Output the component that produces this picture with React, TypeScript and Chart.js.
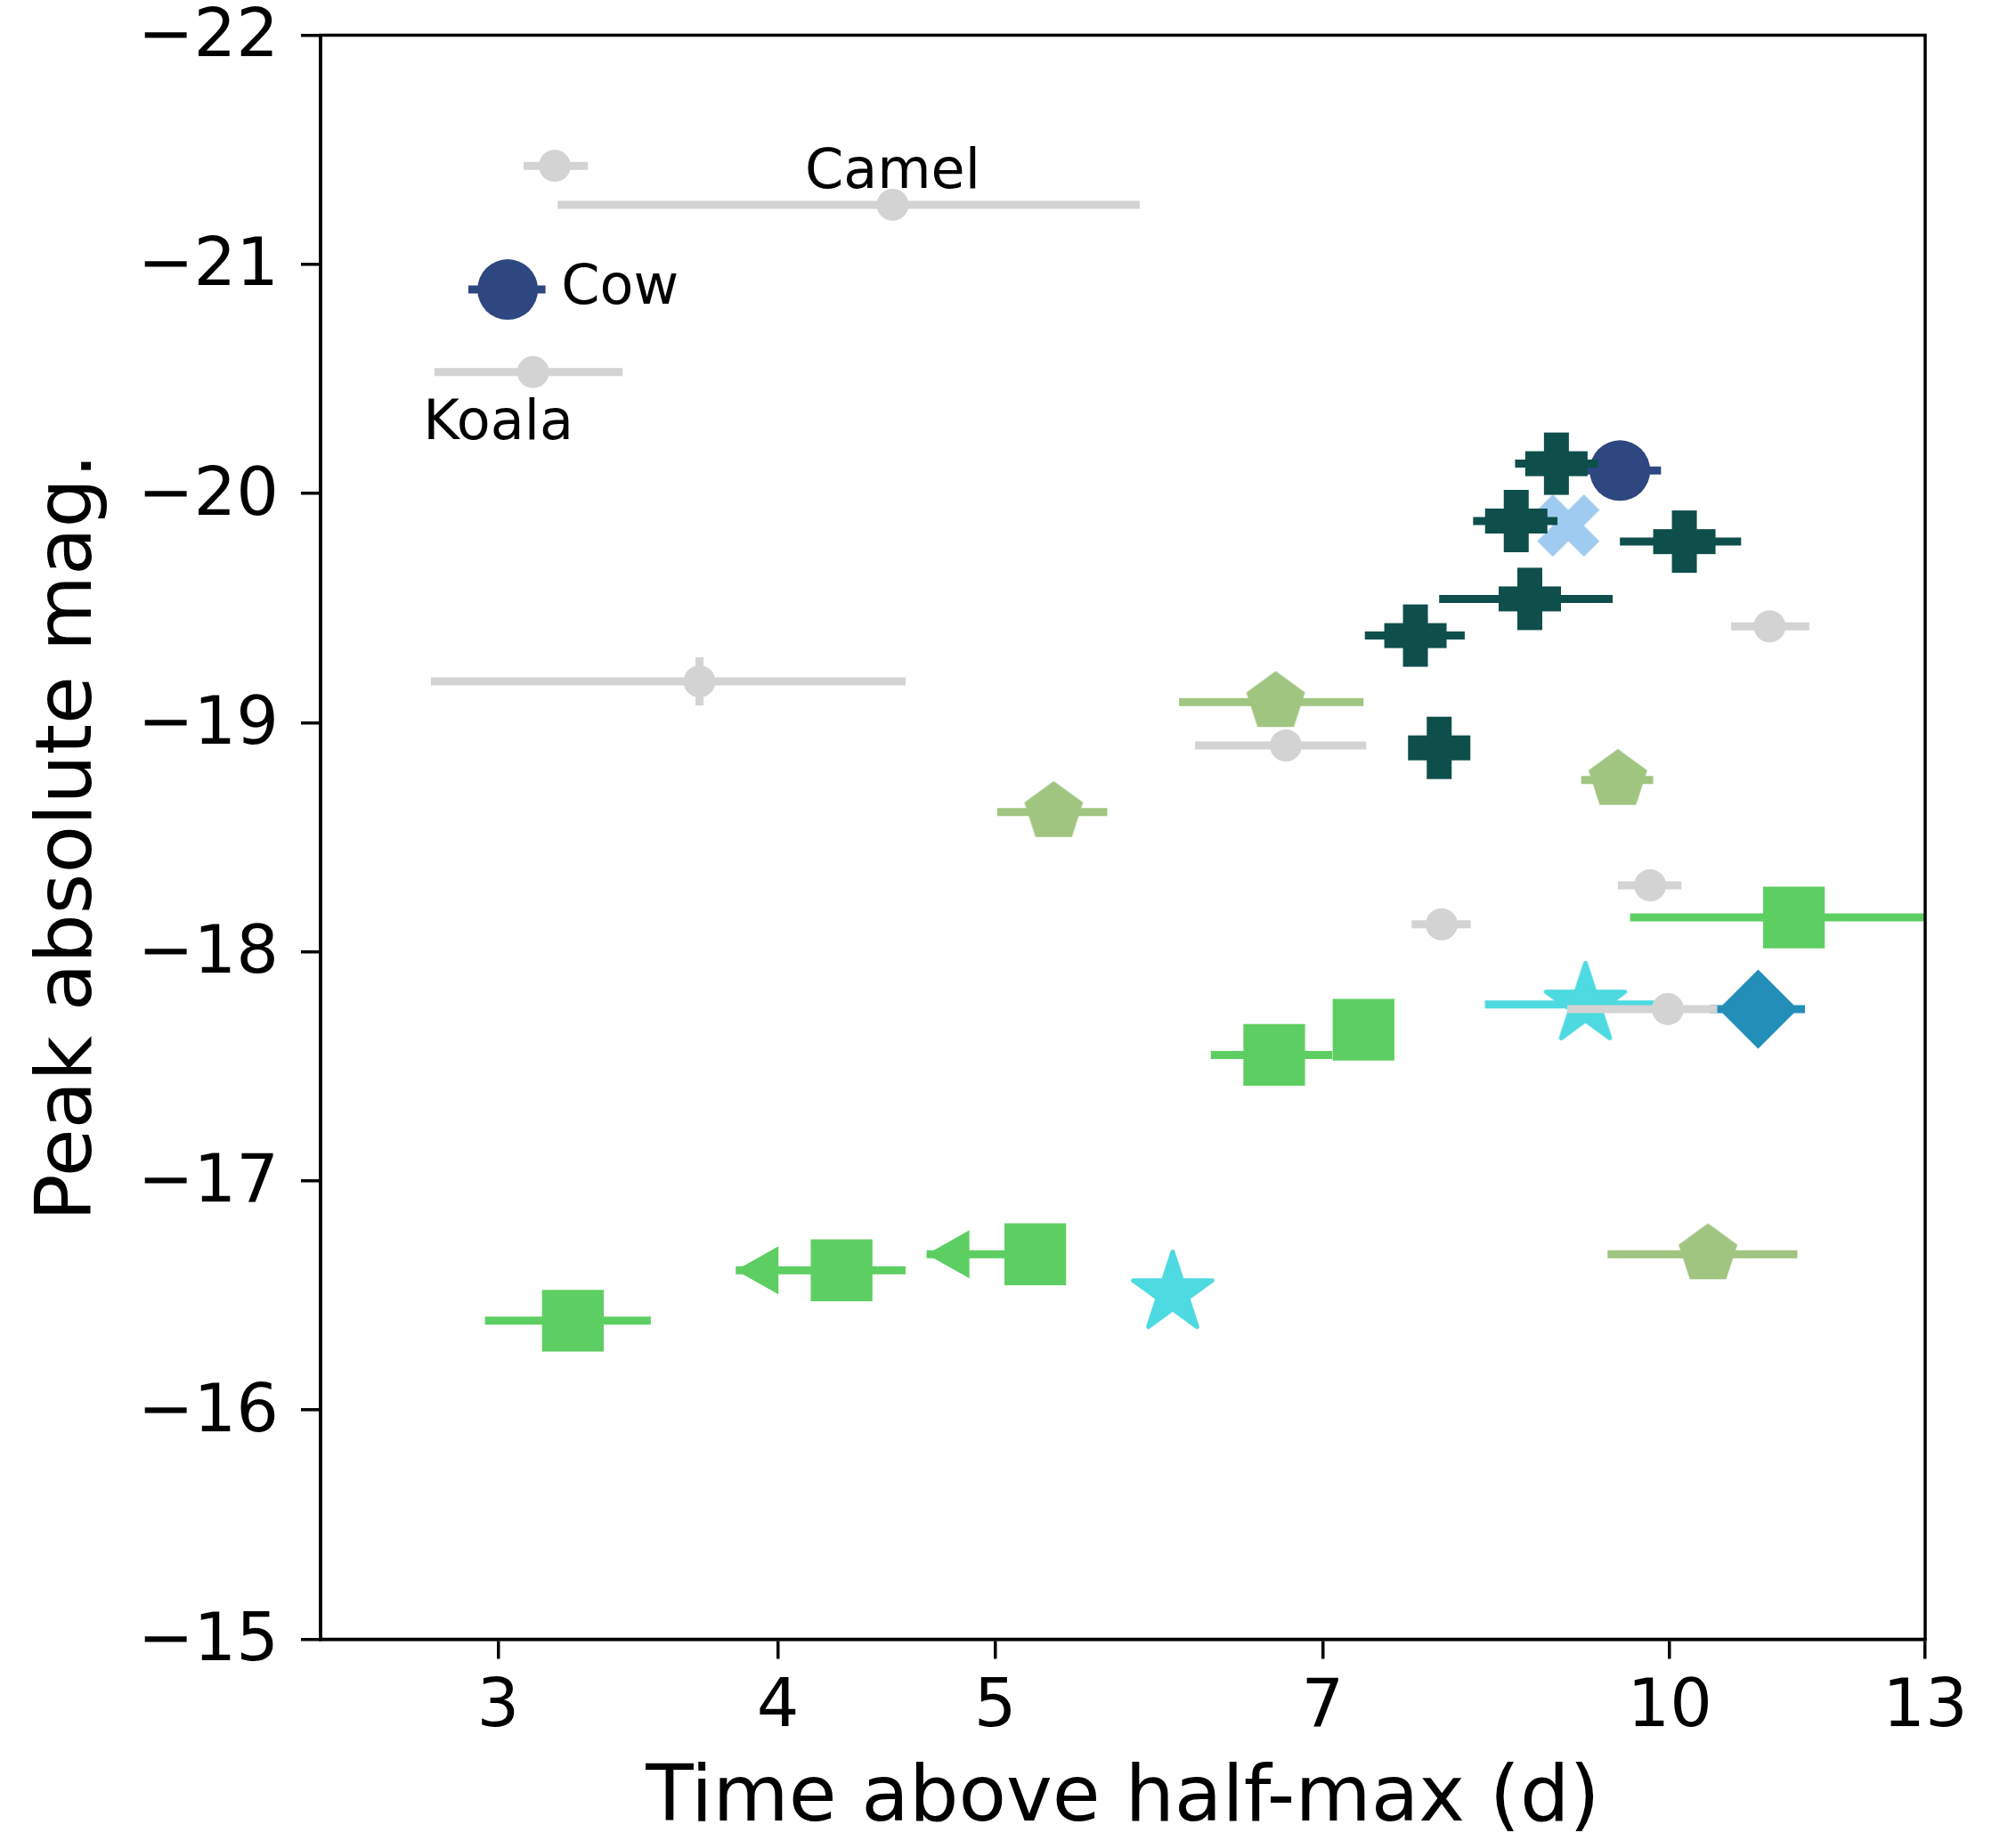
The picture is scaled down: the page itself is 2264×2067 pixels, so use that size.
import React, { useEffect, useRef } from 'react';
import { Chart, registerables } from 'chart.js';

Chart.register(...registerables);

const FONT = 'DejaVu Sans';

// ---- axes ----
const xTicks = [3, 4, 5, 7, 10, 13];
const yTicks = [-22, -21, -20, -19, -18, -17, -16, -15];
const xTitle = 'Time above half-max (d)';
const yTitle = 'Peak absolute mag.';

// ---- light-gray comparison events ----
const grayX = [3.18, 4.5, 3.11, 3.69, 6.74, 11.08, 9.8, 7.91, 9.98];
const grayY = [-21.43, -21.26, -20.53, -19.18, -18.9, -19.42, -18.29, -18.12, -17.75];
const grayXLo = [3.08, 3.19, 2.81, 2.8, 6.14, 10.65, 9.48, 7.67, 9.0];
const grayXHi = [3.29, 5.8, 3.41, 4.56, 7.32, 11.54, 10.12, 8.15, 10.5];
const grayYErr = [0, 0, 0, 0.105, 0, 0, 0, 0, 0];

// ---- navy circles ----
const navyX = [3.03, 9.5];
const navyY = [-20.89, -20.1];
const navyXLo = [2.91, 9.11];
const navyXHi = [3.15, 9.91];

// ---- dark teal filled plus ----
const plusX = [8.9, 8.54, 10.15, 8.66, 7.7, 7.89];
const plusY = [-20.13, -19.88, -19.79, -19.54, -19.38, -18.89];
const plusXLo = [8.53, 8.17, 9.5, 7.89, 7.31, 7.75];
const plusXHi = [9.29, 8.91, 10.76, 9.43, 8.1, 8.03];

// ---- light blue X ----
const crossX = [9.01];
const crossY = [-19.86];

// ---- olive pentagons ----
const pentX = [6.67, 5.31, 9.48, 10.4];
const pentY = [-19.09, -18.61, -18.75, -16.68];
const pentXLo = [6.04, 5.01, 9.13, 9.38];
const pentXHi = [7.3, 5.61, 9.83, 11.4];

// ---- green squares ----
const sqX = [11.36, 7.3, 6.66, 4.27, 5.21, 3.24];
const sqY = [-18.15, -17.66, -17.55, -16.61, -16.68, -16.39];
const sqXLo = [9.6, 7.3, 6.24, 3.83, 4.66, 2.96];
const sqXHi = [13.3, 7.3, 7.07, 4.56, 5.3, 3.51];
const sqUpperLimit = [false, false, false, true, true, false];

// ---- cyan stars ----
const starX = [9.17, 6.0];
const starY = [-17.77, -16.51];
const starXLo = [8.27, 6.0];
const starXHi = [9.84, 6.0];

// ---- blue diamond ----
const diaX = [10.95];
const diaY = [-17.75];
const diaXLo = [10.42];
const diaXHi = [11.49];

// ---- annotations ----
const labelTexts = ['Camel', 'Cow', 'Koala'];
const labelAnchorX = [grayX[1], navyX[0], grayX[2]];
const labelAnchorY = [grayY[1], navyY[0], grayY[2]];

// styles
const GRAY = '#d3d3d3';
const NAVY = '#2e4780';
const TEAL = '#0e4f4c';
const LIGHTBLUE = '#a0cbf1';
const OLIVE = '#a0c580';
const GREEN = '#5dcf62';
const CYAN = '#4ddae0';
const BLUE = '#238fb8';
const labelStyle = [
  { dx: 0, dy: -19, align: 'center' },
  { dx: 60, dy: 15.7, align: 'left' },
  { dx: -123.4, dy: 75.6, align: 'left' },
];

function makeMarker(
  size: number,
  color: string,
  draw: (ctx: CanvasRenderingContext2D) => void,
  edge = 0
) {
  const c = document.createElement('canvas');
  c.width = size;
  c.height = size;
  const ctx = c.getContext('2d')!;
  ctx.translate(size / 2, size / 2);
  ctx.fillStyle = color;
  ctx.strokeStyle = color;
  ctx.beginPath();
  draw(ctx);
  ctx.fill();
  if (edge > 0) {
    ctx.lineWidth = edge;
    ctx.lineJoin = 'round';
    ctx.stroke();
  }
  return c;
}

function polyPath(ctx: CanvasRenderingContext2D, pts: number[][]) {
  pts.forEach((p, i) => (i === 0 ? ctx.moveTo(p[0], p[1]) : ctx.lineTo(p[0], p[1])));
  ctx.closePath();
}

function pts(xs: number[], ys: number[]) {
  return xs.map((x, i) => ({ x, y: ys[i] }));
}

const errorBarPlugin = {
  id: 'errbars',
  beforeDatasetDraw(chart: any, args: any) {
    const ds = chart.data.datasets[args.index];
    const err = ds.errors;
    if (!err) return;
    const { ctx, chartArea } = chart;
    const xs = chart.scales.x;
    const ys = chart.scales.y;
    ctx.save();
    ctx.beginPath();
    ctx.rect(chartArea.left, chartArea.top, chartArea.right - chartArea.left, chartArea.bottom - chartArea.top);
    ctx.clip();
    ctx.strokeStyle = err.color;
    ctx.fillStyle = err.color;
    ctx.lineWidth = 9;
    ds.data.forEach((p: any, i: number) => {
      const px = xs.getPixelForValue(p.x);
      const py = ys.getPixelForValue(p.y);
      const x1 = xs.getPixelForValue(err.xlo[i]);
      const x2 = xs.getPixelForValue(err.xhi[i]);
      if (x2 - x1 > 0.5) {
        ctx.beginPath();
        ctx.moveTo(x1, py);
        ctx.lineTo(x2, py);
        ctx.stroke();
      }
      if (err.yerr && err.yerr[i] > 0) {
        const y1 = ys.getPixelForValue(p.y - err.yerr[i]);
        const y2 = ys.getPixelForValue(p.y + err.yerr[i]);
        ctx.beginPath();
        ctx.moveTo(px, y1);
        ctx.lineTo(px, y2);
        ctx.stroke();
      }
      if (err.uplim && err.uplim[i]) {
        ctx.beginPath();
        ctx.moveTo(x1, py);
        ctx.lineTo(x1 + 48, py - 27);
        ctx.lineTo(x1 + 48, py + 27);
        ctx.closePath();
        ctx.fill();
      }
    });
    ctx.restore();
  },
};

const framePlugin = {
  id: 'frame',
  afterDatasetsDraw(chart: any) {
    const { ctx, chartArea } = chart;
    ctx.save();
    ctx.strokeStyle = '#000';
    ctx.lineWidth = 3.5;
    ctx.strokeRect(chartArea.left, chartArea.top, chartArea.right - chartArea.left, chartArea.bottom - chartArea.top);
    ctx.restore();
  },
};

const labelPlugin = {
  id: 'labels',
  afterDatasetsDraw(chart: any) {
    const { ctx } = chart;
    const xs = chart.scales.x;
    const ys = chart.scales.y;
    ctx.save();
    ctx.fillStyle = '#000';
    ctx.font = `62px "${FONT}"`;
    ctx.textBaseline = 'alphabetic';
    labelTexts.forEach((t, i) => {
      const st = labelStyle[i];
      ctx.textAlign = st.align as CanvasTextAlign;
      const px = xs.getPixelForValue(labelAnchorX[i]);
      const py = ys.getPixelForValue(labelAnchorY[i]);
      ctx.fillText(t, px + st.dx, py + st.dy);
    });
    ctx.restore();
  },
};

export default function App() {
  const ref = useRef<HTMLCanvasElement>(null);

  useEffect(() => {
    if (!ref.current) return;

    const plusImg = makeMarker(72, TEAL, (ctx) => {
      ctx.rect(-35, -14, 70, 28);
      ctx.rect(-14, -35, 28, 70);
    });
    const xImg = makeMarker(74, LIGHTBLUE, (ctx) => {
      const s = 17.5;
      polyPath(
        ctx,
        [
          [-1, -2], [0, -1], [1, -2], [2, -1], [1, 0], [2, 1],
          [1, 2], [0, 1], [-1, 2], [-2, 1], [-1, 0], [-2, -1],
        ].map((p) => [p[0] * s, p[1] * s])
      );
    });
    const pentImg = makeMarker(72, OLIVE, (ctx) => {
      const R = 34.7;
      const p: number[][] = [];
      for (let k = 0; k < 5; k++) {
        const a = -Math.PI / 2 + (k * 2 * Math.PI) / 5;
        p.push([R * Math.cos(a), R * Math.sin(a)]);
      }
      polyPath(ctx, p);
    });
    const starImg = makeMarker(
      104,
      CYAN,
      (ctx) => {
        const R = 46.5;
        const r = R * 0.381966;
        const p: number[][] = [];
        for (let k = 0; k < 10; k++) {
          const a = -Math.PI / 2 + (k * Math.PI) / 5;
          const rr = k % 2 === 0 ? R : r;
          p.push([rr * Math.cos(a), rr * Math.sin(a)]);
        }
        polyPath(ctx, p);
      },
      5
    );

    const base = { pointBorderWidth: 0, borderWidth: 0 };

    const chart = new Chart(ref.current, {
      type: 'scatter',
      data: {
        datasets: [
          {
            ...base,
            data: pts(grayX, grayY),
            backgroundColor: GRAY,
            pointBackgroundColor: GRAY,
            pointStyle: 'circle',
            pointRadius: 18,
            errors: { xlo: grayXLo, xhi: grayXHi, yerr: grayYErr, color: GRAY },
          } as any,
          {
            ...base,
            data: pts(pentX, pentY),
            pointStyle: pentImg,
            pointRadius: 35,
            errors: { xlo: pentXLo, xhi: pentXHi, color: OLIVE },
          } as any,
          {
            ...base,
            data: pts(sqX, sqY),
            backgroundColor: GREEN,
            pointBackgroundColor: GREEN,
            pointStyle: 'rect',
            pointRadius: 49,
            errors: { xlo: sqXLo, xhi: sqXHi, uplim: sqUpperLimit, color: GREEN },
          } as any,
          {
            ...base,
            data: pts(plusX, plusY),
            pointStyle: plusImg,
            pointRadius: 35,
            errors: { xlo: plusXLo, xhi: plusXHi, color: TEAL },
          } as any,
          {
            ...base,
            data: pts(crossX, crossY),
            pointStyle: xImg,
            pointRadius: 35,
          } as any,
          {
            ...base,
            data: pts(navyX, navyY),
            backgroundColor: NAVY,
            pointBackgroundColor: NAVY,
            pointStyle: 'circle',
            pointRadius: 34,
            errors: { xlo: navyXLo, xhi: navyXHi, color: NAVY },
          } as any,
          {
            ...base,
            data: pts(starX, starY),
            pointStyle: starImg,
            pointRadius: 45,
            errors: { xlo: starXLo, xhi: starXHi, color: CYAN },
          } as any,
          {
            ...base,
            data: pts(diaX, diaY),
            backgroundColor: BLUE,
            pointBackgroundColor: BLUE,
            pointStyle: 'rectRot',
            pointRadius: 44.5,
            errors: { xlo: diaXLo, xhi: diaXHi, color: BLUE },
          } as any,
        ],
      },
      options: {
        animation: false,
        responsive: false,
        devicePixelRatio: 1,
        events: [],
        layout: { autoPadding: false, padding: { top: 39.5, right: 102, bottom: 0, left: 0 } },
        plugins: { legend: { display: false }, tooltip: { enabled: false } },
        scales: {
          x: {
            type: 'logarithmic',
            position: 'bottom',
            min: 2.5,
            max: 13,
            afterBuildTicks: (s: any) => {
              s.ticks = xTicks.map((v) => ({ value: v }));
            },
            afterFit: (s: any) => {
              s.height = 226.5;
              s.paddingLeft = 0;
              s.paddingRight = 0;
            },
            ticks: {
              autoSkip: false,
              maxRotation: 0,
              minRotation: 0,
              padding: 11.5,
              color: '#000',
              font: { family: FONT, size: 75 },
              callback: (v: any) => String(v),
            },
            grid: {
              drawOnChartArea: false,
              drawTicks: true,
              tickLength: 22,
              tickWidth: 3.5,
              tickColor: '#000',
              color: '#000',
              lineWidth: 3.5,
            },
            border: { display: true, color: '#000', width: 3.5 },
            title: {
              display: true,
              text: xTitle,
              color: '#000',
              font: { family: FONT, size: 87.5, lineHeight: 1 },
              padding: { top: 0, bottom: 1.85 },
            },
          } as any,
          y: {
            type: 'linear',
            position: 'left',
            min: -22,
            max: -15,
            reverse: true,
            afterBuildTicks: (s: any) => {
              s.ticks = yTicks.map((v) => ({ value: v }));
            },
            afterFit: (s: any) => {
              s.width = 360;
              s.paddingTop = 0;
              s.paddingBottom = 0;
            },
            ticks: {
              autoSkip: false,
              padding: 25,
              labelOffset: 4,
              color: '#000',
              font: { family: FONT, size: 75 },
              callback: (v: any) => (v < 0 ? '\u2212' + Math.abs(v) : String(v)),
            },
            grid: {
              drawOnChartArea: false,
              drawTicks: true,
              tickLength: 22,
              tickWidth: 3.5,
              tickColor: '#000',
              color: '#000',
              lineWidth: 3.5,
            },
            border: { display: true, color: '#000', width: 3.5 },
            title: {
              display: true,
              text: yTitle,
              color: '#000',
              font: { family: FONT, size: 87.5, lineHeight: 1 },
              padding: { top: 35.9, bottom: 0 },
            },
          } as any,
        },
      },
      plugins: [errorBarPlugin, framePlugin, labelPlugin],
    });

    return () => chart.destroy();
  }, []);

  return (
    <div style={{ position: 'absolute', left: 0, top: 0, width: 2264, height: 2067, background: '#fff' }}>
      <canvas ref={ref} width={2264} height={2067} style={{ display: 'block' }} />
    </div>
  );
}
